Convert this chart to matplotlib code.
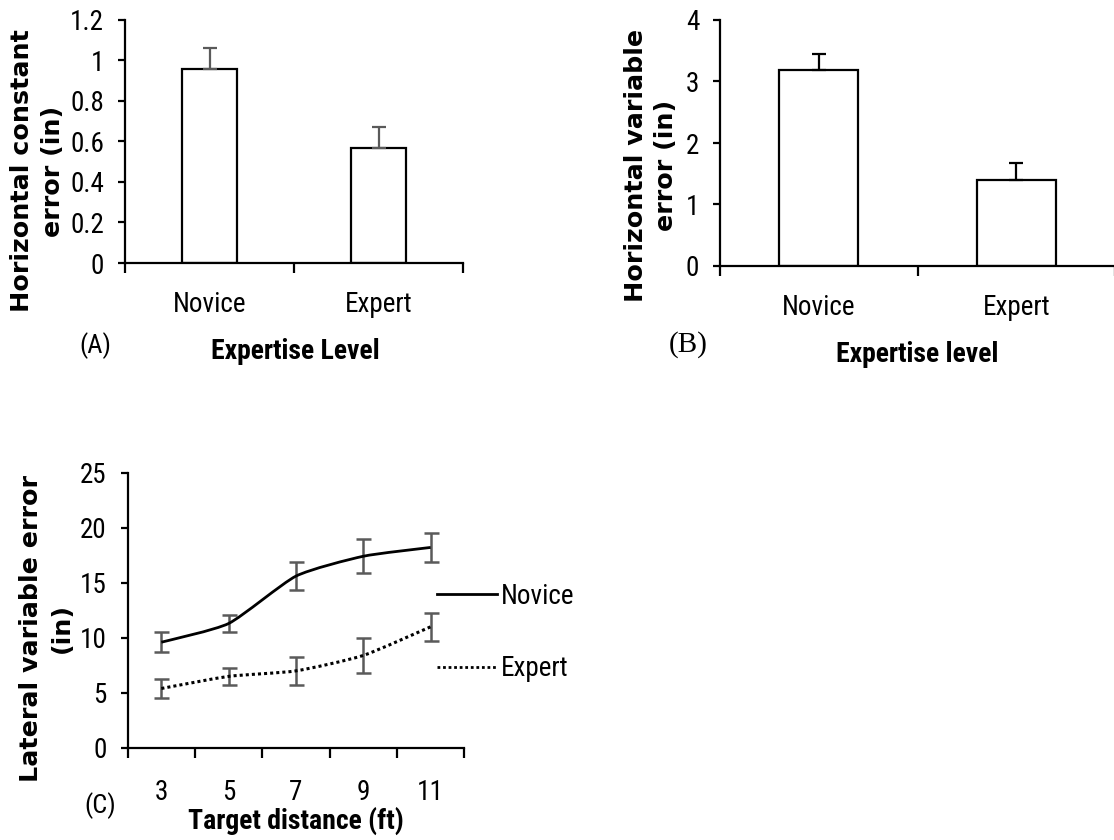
import matplotlib
matplotlib.use("Agg")
import matplotlib.pyplot as plt
from matplotlib.path import Path
from matplotlib.patches import PathPatch
import numpy as np

# ---- data ----
groups = ["Novice", "Expert"]
const_err = [0.96, 0.57]
const_sem = [0.10, 0.10]
var_err = [3.18, 1.40]
var_sem = [0.26, 0.27]

distances = ["3", "5", "7", "9", "11"]
novice_lat = [9.6, 11.3, 15.6, 17.4, 18.2]
novice_lat_sem = [0.9, 0.8, 1.25, 1.55, 1.3]
expert_lat = [5.4, 6.5, 7.0, 8.4, 11.0]
expert_lat_sem = [0.9, 0.8, 1.25, 1.55, 1.25]

W, H = 1114, 840
NARROW = ["Liberation Sans Narrow", "Roboto Condensed", "Open Sans Condensed",
          "Liberation Sans", "DejaVu Sans"]
BOLDF = ["DejaVu Sans"]
TICK_FS = 19.5
ERR_GRAY = "#5a5a5a"

plt.rcParams["font.family"] = NARROW
fig = plt.figure(figsize=(W / 100, H / 100), dpi=100)


def px_axes(x0, y0, x1, y1):
    return fig.add_axes([x0 / W, 1 - y1 / H, (x1 - x0) / W, (y1 - y0) / H])


def ftext(x, y, s, **kw):
    fig.text(x / W, 1 - y / H, s, ha="center", va="center", **kw)


def style_axes(ax, n, yticks, ylim, label_pad_pt):
    for side in ("top", "right"):
        ax.spines[side].set_visible(False)
    for side in ("left", "bottom"):
        ax.spines[side].set_linewidth(1.6)
    ax.set_xlim(-0.5, n - 0.5)
    ax.set_ylim(*ylim)
    ax.set_yticks(yticks)
    ax.set_yticklabels([f"{t:g}" for t in yticks])
    ax.set_xticks(np.arange(n + 1) - 0.5)
    ax.set_xticklabels([])
    ax.set_xticks(np.arange(n), minor=True)
    ax.tick_params(axis="y", direction="out", length=5, width=1.6,
                   labelsize=TICK_FS, pad=10)
    ax.tick_params(axis="x", which="major", direction="out", length=7, width=1.6)
    ax.tick_params(axis="x", which="minor", length=0, labelsize=TICK_FS,
                   pad=label_pad_pt)
    ax.set_facecolor("none")


def bar_panel(ax, vals, sems, width, ecolor, yticks, ylim):
    x = np.arange(len(vals))
    ax.bar(x, vals, width=width, color="white", edgecolor="black",
           linewidth=1.6, zorder=2)
    ax.errorbar(x, vals, yerr=[np.zeros(len(sems)), sems], fmt="none",
                ecolor=ecolor, elinewidth=1.6, capsize=5, capthick=1.6, zorder=3)
    style_axes(ax, len(vals), yticks, ylim, 20)
    ax.set_xticklabels(groups, minor=True)


def smooth_path(xs, ys, tension=0.1):
    pts = np.column_stack([xs, ys]).astype(float)
    ext = np.vstack([pts[0], pts, pts[-1]])
    verts = [tuple(pts[0])]
    codes = [Path.MOVETO]
    for i in range(len(pts) - 1):
        p0, p1, p2, p3 = ext[i], ext[i + 1], ext[i + 2], ext[i + 3]
        c1 = p1 + (p2 - p0) * tension
        c2 = p2 - (p3 - p1) * tension
        verts += [tuple(c1), tuple(c2), tuple(p2)]
        codes += [Path.CURVE4] * 3
    return Path(verts, codes)


# ---- (A) horizontal constant error ----
axA = px_axes(125, 20, 463, 263)
bar_panel(axA, const_err, const_sem, 0.32, ERR_GRAY,
          [0, 0.2, 0.4, 0.6, 0.8, 1.0, 1.2], (0, 1.2))
ftext(22, 171, "Horizontal constant", rotation=90, family=BOLDF,
      fontweight="bold", fontsize=18.3)
ftext(53, 171, "error (in)", rotation=90, family=BOLDF,
      fontweight="bold", fontsize=18.3)
ftext(295, 351, "Expertise Level", fontweight="bold", fontsize=20)
ftext(95, 346, "(A)", fontsize=19)

# ---- (B) horizontal variable error ----
axB = px_axes(720, 20, 1115, 266)
bar_panel(axB, var_err, var_sem, 0.40, "black", [0, 1, 2, 3, 4], (0, 4))
ftext(636, 165, "Horizontal variable", rotation=90, family=BOLDF,
      fontweight="bold", fontsize=18.3)
ftext(666, 165, "error (in)", rotation=90, family=BOLDF,
      fontweight="bold", fontsize=18.3)
ftext(917, 354, "Expertise level", fontweight="bold", fontsize=20)
ftext(688, 345, "(B)", family=["Liberation Serif", "DejaVu Serif"], fontsize=21)

# ---- (C) lateral variable error by distance ----
axC = px_axes(127.7, 472.5, 464.3, 748)
xc = np.arange(len(distances))
for vals, sems, ls in ((novice_lat, novice_lat_sem, "-"),
                       (expert_lat, expert_lat_sem, (0, (1, 1)))):
    axC.add_patch(PathPatch(smooth_path(xc, vals), facecolor="none",
                            edgecolor="black", linewidth=2.0 if ls == "-" else 2.2,
                            linestyle=ls, zorder=3, capstyle="butt"))
    axC.errorbar(xc, vals, yerr=sems, fmt="none", ecolor=ERR_GRAY,
                 elinewidth=1.8, capsize=5.4, capthick=1.8, zorder=2)
style_axes(axC, len(distances), [0, 5, 10, 15, 20, 25], (0, 25), 22)
axC.set_xticklabels(distances, minor=True)

ftext(31, 628, "Lateral variable error", rotation=90, family=BOLDF,
      fontweight="bold", fontsize=18.3)
ftext(62, 628, "(in)", rotation=90, family=BOLDF,
      fontweight="bold", fontsize=18.3)
ftext(296, 821, "Target distance (ft)", fontweight="bold", fontsize=20)
ftext(100, 806, "(C)", fontsize=19)

# legend drawn beside the plot area
leg_x0, leg_x1 = 437 / W, 497 / W
fig.add_artist(plt.Line2D([leg_x0, leg_x1], [1 - 594 / H] * 2, color="black",
                          linewidth=2.0, transform=fig.transFigure))
fig.add_artist(plt.Line2D([leg_x0, leg_x1], [1 - 667 / H] * 2, color="black",
                          linewidth=2.0, linestyle=(0, (1, 1)),
                          transform=fig.transFigure))
fig.text(501 / W, 1 - 597 / H, "Novice", ha="left", va="center", fontsize=TICK_FS)
fig.text(501 / W, 1 - 668 / H, "Expert", ha="left", va="center", fontsize=TICK_FS)

fig.savefig("out.png", dpi=100, facecolor="white")
